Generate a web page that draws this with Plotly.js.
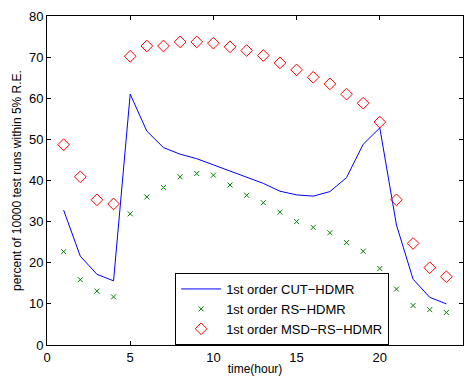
<!DOCTYPE html>
<html>
<head>
<meta charset="utf-8">
<script src="https://cdn.plot.ly/plotly-3.0.1.min.js"></script>
<style>html,body{margin:0;padding:0;background:#fff;}#chart{width:467px;height:376px;}</style>
</head>
<body>
<div id="chart"></div>
<script>
const hours = [1,2,3,4,5,6,7,8,9,10,11,12,13,14,15,16,17,18,19,20,21,22,23,24];
const cutHDMR = [32.8,21.6,17.2,15.6,61.0,52.0,48.0,46.4,45.3,43.8,42.4,40.9,39.3,37.4,36.5,36.2,37.3,40.7,48.8,52.8,29.2,16.0,11.6,10.0];
const rsHDMR = [22.7,15.9,13.1,11.7,31.9,36.0,38.3,40.9,41.7,41.3,38.9,36.4,34.6,32.3,30.0,28.6,27.3,24.9,22.8,18.6,13.6,9.6,8.6,7.9];
const msdRsHDMR = [48.7,40.9,35.3,34.3,70.2,72.7,72.7,73.7,73.7,73.4,72.5,71.6,70.4,68.6,66.9,65.1,63.5,61.0,58.8,54.2,35.3,24.7,18.8,16.6];
const seriesNames = ['1st order CUT\u2212HDMR','1st order RS\u2212HDMR','1st order MSD\u2212RS\u2212HDMR'];
const xTicks = [0,5,10,15,20,25];
const yTicks = [0,10,20,30,40,50,60,70,80];

const traces = [
  {x: hours, y: cutHDMR, name: seriesNames[0], mode: 'lines', type: 'scatter',
   line: {color: '#0000ff', width: 1}},
  {x: hours, y: rsHDMR, name: seriesNames[1], mode: 'markers', type: 'scatter',
   marker: {symbol: 'x-thin', size: 5, line: {color: '#008000', width: 1}, color: '#008000'}},
  {x: hours, y: msdRsHDMR, name: seriesNames[2], mode: 'markers', type: 'scatter',
   marker: {symbol: 'diamond-open', size: 9, color: '#ff0000', line: {color: '#ff0000', width: 1}}}
];

const axisCommon = {
  showgrid: false, zeroline: false, showline: true, mirror: 'ticks',
  linecolor: '#000', linewidth: 1, ticks: 'inside', ticklen: 4, tickcolor: '#000',
  tickfont: {family: 'Liberation Sans, Arial, sans-serif', size: 13, color: '#000'}
};

const layout = {
  width: 467, height: 376,
  margin: {l: 47, r: 4, t: 16, b: 31},
  paper_bgcolor: '#fff', plot_bgcolor: '#fff',
  showlegend: true,
  xaxis: Object.assign({}, axisCommon, {range: [0, 25], tickvals: xTicks, ticktext: xTicks.map(String),
    title: {text: 'time(hour)', standoff: 3, font: {family: 'Liberation Sans, Arial, sans-serif', size: 12, color: '#000'}}}),
  yaxis: Object.assign({}, axisCommon, {range: [0, 80], tickvals: yTicks, ticktext: yTicks.map(String),
    title: {text: 'percent of 10000 test runs within 5% R.E.', standoff: 4, font: {family: 'Liberation Sans, Arial, sans-serif', size: 12, color: '#000'}}}),
  legend: {x: 0.308, y: 0, xanchor: 'left', yanchor: 'bottom', bgcolor: '#fff', bordercolor: '#000', borderwidth: 1,
    font: {family: 'Liberation Sans, Arial, sans-serif', size: 13, color: '#000'}, tracegroupgap: 0, itemwidth: 40}
};

Plotly.newPlot('chart', traces, layout, {displayModeBar: false, staticPlot: true});
</script>
</body>
</html>
